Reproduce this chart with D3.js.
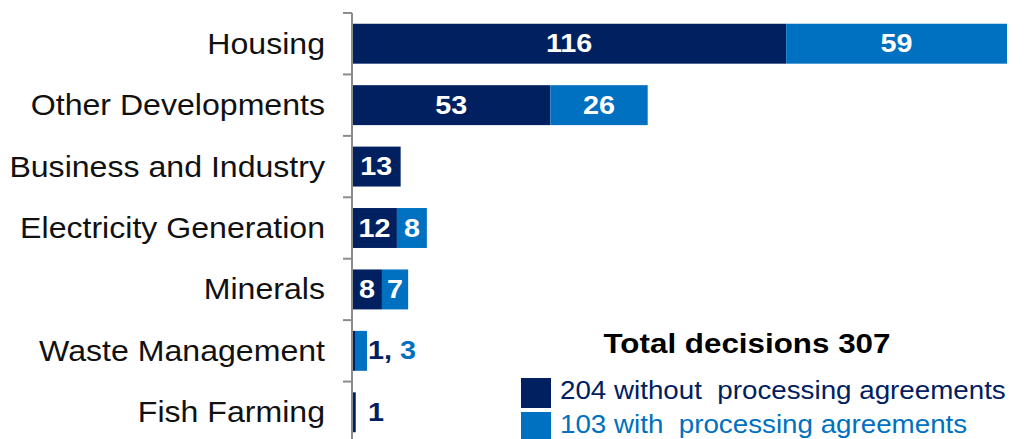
<!DOCTYPE html>
<html>
<head>
<meta charset="utf-8">
<script src="https://cdn.jsdelivr.net/npm/d3@7"></script>
<style>
  body { margin: 0; background: #fff; }
  text { font-family: "Liberation Sans", Arial, sans-serif; white-space: pre; }
</style>
</head>
<body>
<div id="chart"></div>
<script>
// chart data
const categories = ['Housing', 'Other Developments', 'Business and Industry',
  'Electricity Generation', 'Minerals', 'Waste Management', 'Fish Farming'];
const withoutAgreements = [116, 53, 13, 12, 8, 1, 1];
const withAgreements = [59, 26, 0, 8, 7, 3, 0];
const legendTitle = 'Total decisions 307';
const legendLabels = ['204 without  processing agreements', '103 with  processing agreements'];

const colors = { dark: '#002060', light: '#0070C0' };

const width = 1026;
const height = 439;
const axisX = 352;

const svg = d3.select('#chart').append('svg')
  .attr('width', width)
  .attr('height', height);

const rows = categories.map((c, i) => ({
  name: c,
  a: withoutAgreements[i],
  b: withAgreements[i],
}));

const xScale = d3.scaleLinear()
  .domain([0, 175])
  .range([axisX, 1007]);

const yScale = d3.scaleBand()
  .domain(categories)
  .range([13, 443])
  .paddingInner(0.35)
  .paddingOuter(0.175);

const step = yScale.step();

// the original's text is a bit wider than the fonts we have, so stretch it
const stretched = (sel, x, y, sx) => sel
  .attr('transform', (d) => `translate(${typeof x === 'function' ? x(d) : x},${y}) scale(${sx},1)`);

// bars
const rowG = svg.selectAll('g.row')
  .data(rows)
  .join('g')
  .attr('class', 'row')
  .attr('transform', (d) => `translate(0,${yScale(d.name)})`);

rowG.append('rect')
  .attr('x', xScale(0))
  .attr('y', 0)
  .attr('width', (d) => xScale(d.a) - xScale(0))
  .attr('height', yScale.bandwidth())
  .attr('fill', colors.dark);

rowG.filter((d) => d.b > 0).append('rect')
  .attr('x', (d) => xScale(d.a))
  .attr('y', 0)
  .attr('width', (d) => xScale(d.a + d.b) - xScale(d.a))
  .attr('height', yScale.bandwidth())
  .attr('fill', colors.light);

// value labels inside bars when they fit
const mid = yScale.bandwidth() / 2 + 8.5;
const inside = (d) => xScale(d.a + d.b) - xScale(0) > 20;

rowG.filter(inside).append('text')
  .call(stretched, (d) => (xScale(0) + xScale(d.a)) / 2, mid, 1.15)
  .attr('text-anchor', 'middle')
  .attr('font-size', 25)
  .attr('font-weight', 'bold')
  .attr('fill', '#fff')
  .text((d) => d.a);

rowG.filter((d) => inside(d) && d.b > 0).append('text')
  .call(stretched, (d) => (xScale(d.a) + xScale(d.a + d.b)) / 2, mid, 1.15)
  .attr('text-anchor', 'middle')
  .attr('font-size', 25)
  .attr('font-weight', 'bold')
  .attr('fill', '#fff')
  .text((d) => d.b);

// small bars get their labels outside, lined up in one column
const outsideX = xScale(4) + 1;
const outside = rowG.filter((d) => !inside(d)).append('text')
  .call(stretched, outsideX, mid, 1.15)
  .attr('font-size', 25)
  .attr('font-weight', 'bold');

outside.append('tspan')
  .attr('fill', colors.dark)
  .text((d) => (d.b > 0 ? `${d.a}, ` : d.a));

outside.filter((d) => d.b > 0).append('tspan')
  .attr('fill', colors.light)
  .text((d) => d.b);

// category labels
rowG.append('text')
  .call(stretched, 325, yScale.bandwidth() / 2 + 10, 1.07)
  .attr('text-anchor', 'end')
  .attr('font-size', 30)
  .attr('fill', '#111')
  .text((d) => d.name);

// vertical axis with ticks at band boundaries
const axisG = svg.append('g')
  .attr('stroke', '#8c8c8c')
  .attr('stroke-width', 2);

axisG.append('line')
  .attr('x1', axisX)
  .attr('x2', axisX)
  .attr('y1', 13)
  .attr('y2', height);

axisG.selectAll('line.tick')
  .data(d3.range(categories.length))
  .join('line')
  .attr('class', 'tick')
  .attr('x1', axisX - 9)
  .attr('x2', axisX)
  .attr('y1', (i) => 13 + i * step)
  .attr('y2', (i) => 13 + i * step);

// legend
svg.append('text')
  .call(stretched, 747, 353, 1.12)
  .attr('text-anchor', 'middle')
  .attr('font-size', 28)
  .attr('font-weight', 'bold')
  .attr('fill', '#000')
  .text(legendTitle);

const legendG = svg.selectAll('g.legend')
  .data(legendLabels)
  .join('g')
  .attr('class', 'legend')
  .attr('transform', (d, i) => `translate(521,${378 + i * 34})`);

legendG.append('rect')
  .attr('width', 30)
  .attr('height', 30)
  .attr('fill', (d, i) => (i === 0 ? colors.dark : colors.light));

legendG.append('text')
  .call(stretched, 39, 21, 1.11)
  .attr('font-size', 25)
  .attr('fill', (d, i) => (i === 0 ? colors.dark : colors.light))
  .text((d) => d);
</script>
</body>
</html>
